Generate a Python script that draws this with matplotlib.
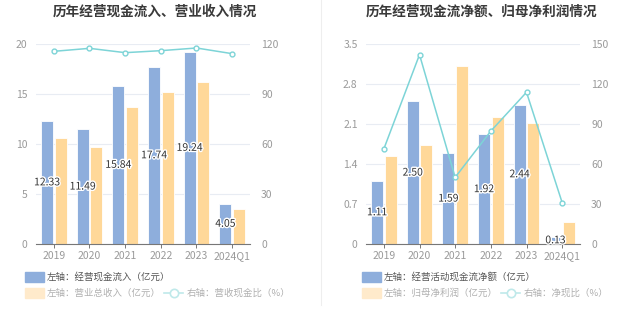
"""Two-panel cash-flow chart: bars on the left axis, ratio line on the right axis."""

import matplotlib
matplotlib.use("Agg")
import matplotlib.pyplot as plt
import matplotlib.patheffects as pe
from matplotlib.lines import Line2D
from matplotlib.patches import Rectangle
import numpy as np

plt.rcParams["font.family"] = ["Noto Sans CJK SC", "DejaVu Sans"]

# ---- data ----------------------------------------------------------------

YEARS = ["2019", "2020", "2021", "2022", "2023", "2024Q1"]

# left panel
CASH_IN = [12.33, 11.49, 15.84, 17.74, 19.24, 4.05]          # 经营现金流入 (亿元)
REVENUE = [10.57, 9.67, 13.67, 15.17, 16.23, 3.47]           # 营业总收入 (亿元)
CASH_REV_RATIO = [115.6, 117.4, 114.8, 116.0, 117.6, 114.2]  # 营收现金比 (%)

# right panel
NET_CASH = [1.11, 2.50, 1.59, 1.92, 2.44, 0.13]              # 经营活动现金流净额 (亿元)
NET_PROFIT = [1.54, 1.73, 3.12, 2.22, 2.12, 0.385]           # 归母净利润 (亿元)
NET_RATIO = [71.3, 142.0, 50.0, 84.7, 113.8, 31.0]           # 净现比 (%)

LEFT_TICKS = [0, 5, 10, 15, 20]
LEFT_TICKS_R = [0, 30, 60, 90, 120]
RIGHT_TICKS = [0, 0.7, 1.4, 2.1, 2.8, 3.5]
RIGHT_TICKS_R = [0, 30, 60, 90, 120, 150]

# ---- style ---------------------------------------------------------------

BLUE = "#8EAEDC"
ORANGE = "#FFD899"
ORANGE_LIGHT = "#FFEACB"
TEAL = "#7DD4D7"
GRID = "#E8ECF3"
TICK = "#9A9A9A"

W, H, DPI = 637, 327, 100


def px_axes(fig, x0, y0, x1, y1):
    """Axes from pixel box (top-left origin)."""
    return fig.add_axes([x0 / W, 1 - y1 / H, (x1 - x0) / W, (y1 - y0) / H])


def draw_panel(fig, box, bars_a, bars_b, ratio, lticks, rticks):
    ax = px_axes(fig, *box)
    x = np.arange(len(YEARS))
    bw, off = 0.34, 0.19
    ax.bar(x - off, bars_a, width=bw, color=BLUE, edgecolor="white", linewidth=0.6, zorder=2)
    ax.bar(x + off, bars_b, width=bw, color=ORANGE, edgecolor="white", linewidth=0.6, zorder=2)

    for xi, v in zip(x - off, bars_a):
        ax.text(xi, v / 2, f"{v:.2f}", ha="center", va="center", fontsize=7.5,
                color="#333333", zorder=5,
                path_effects=[pe.withStroke(linewidth=2, foreground="white")])

    ax.set_xlim(-0.5, len(YEARS) - 0.5)
    ax.set_ylim(lticks[0], lticks[-1])
    ax.set_yticks(lticks)
    ax.set_yticklabels([f"{t:g}" for t in lticks])
    ax.set_xticks(x)
    ax.set_xticklabels(YEARS)
    ax.grid(axis="y", color=GRID, linewidth=0.8, zorder=0)
    ax.set_axisbelow(True)
    for s in ("top", "left", "right"):
        ax.spines[s].set_visible(False)
    ax.spines["bottom"].set_color("#777777")
    ax.spines["bottom"].set_linewidth(0.8)
    ax.tick_params(axis="y", length=0, pad=6, labelsize=7.5, labelcolor=TICK)
    ax.tick_params(axis="x", length=3, width=0.7, color="#777777", pad=2,
                   labelsize=7.5, labelcolor=TICK)

    ax2 = ax.twinx()
    ax2.plot(x, ratio, color=TEAL, linewidth=1.1, marker="o", markersize=3.5,
             markerfacecolor="white", markeredgecolor=TEAL, markeredgewidth=1, zorder=4)
    ax2.set_ylim(rticks[0], rticks[-1])
    ax2.set_yticks(rticks)
    for s in ax2.spines.values():
        s.set_visible(False)
    ax2.tick_params(axis="y", length=0, pad=8, labelsize=7.5, labelcolor=TICK)
    return ax


def legend(fig, x0, labels, line_x):
    """Manual legend rows placed in pixel coords."""
    def patch(x, y, color):
        fig.patches.append(Rectangle((x / W, 1 - (y + 5) / H), 19 / W, 10 / H,
                                     transform=fig.transFigure, color=color))

    patch(x0, 277, BLUE)
    fig.text((x0 + 22) / W, 1 - 277 / H, labels[0], fontsize=6.8, color="#555555", va="center")
    patch(x0, 293, ORANGE_LIGHT)
    fig.text((x0 + 22) / W, 1 - 293 / H, labels[1], fontsize=6.8, color="#B0B0B0", va="center")
    fig.lines.append(Line2D([line_x / W, (line_x + 19) / W], [1 - 293 / H] * 2,
                            transform=fig.transFigure, color="#BFE9EA", linewidth=1.2))
    fig.lines.append(Line2D([(line_x + 9.5) / W], [1 - 293 / H], transform=fig.transFigure,
                            marker="o", markersize=6, markerfacecolor="white",
                            markeredgecolor="#BFE9EA", markeredgewidth=1.2))
    fig.text((line_x + 23) / W, 1 - 293 / H, labels[2], fontsize=6.8, color="#B0B0B0", va="center")


def main() -> None:
    fig = plt.figure(figsize=(W / DPI, H / DPI), dpi=DPI)

    draw_panel(fig, (36, 44, 250, 244), CASH_IN, REVENUE, CASH_REV_RATIO,
               LEFT_TICKS, LEFT_TICKS_R)
    draw_panel(fig, (366, 44, 580, 244), NET_CASH, NET_PROFIT, NET_RATIO,
               RIGHT_TICKS, RIGHT_TICKS_R)

    fig.text(155 / W, 1 - 12 / H, "历年经营现金流入、营业收入情况", ha="center", va="center",
             fontsize=9.8, fontweight="bold", color="#3A3A3A")
    fig.text(482 / W, 1 - 12 / H, "历年经营现金流净额、归母净利润情况", ha="center", va="center",
             fontsize=9.8, fontweight="bold", color="#3A3A3A")

    # panel separator
    fig.lines.append(Line2D([320.5 / W] * 2, [1, 1 - 305 / H], transform=fig.transFigure,
                            color="#EEEEEE", linewidth=0.8))

    legend(fig, 25, ["左轴：经营现金流入（亿元）", "左轴：营业总收入（亿元）", "右轴：营收现金比（%）"], 164)
    legend(fig, 362, ["左轴：经营活动现金流净额（亿元）", "左轴：归母净利润（亿元）", "右轴：净现比（%）"], 501)

    fig.savefig("out.png", dpi=DPI)
    plt.close(fig)


if __name__ == "__main__":
    main()
